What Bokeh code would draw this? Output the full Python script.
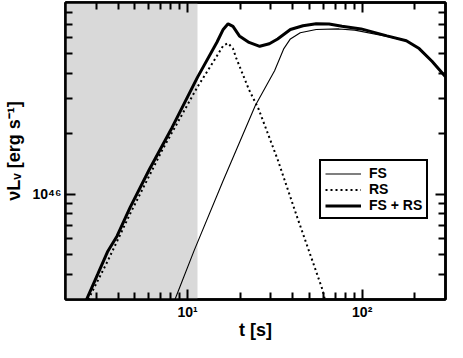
from bokeh.plotting import figure
from bokeh.models import FixedTicker, LogAxis, Legend, BoxAnnotation
from bokeh.embed import file_html
from bokeh.resources import INLINE

# ---- data ----
t_sum = [2.64, 3.06, 3.48, 3.95, 4.69, 6.04, 8.13, 11.41, 14.73, 16.0, 17.06, 18.2, 19.8, 22.5,
         25.9, 29.4, 32.8, 38.8, 45.8, 54.5, 64.6, 76.6, 98.6, 138.7, 179, 212, 251, 300]
L_sum = [3.0e45, 4.01e45, 5.18e45, 6.21e45, 8.61e45, 1.33e46, 2.14e46, 3.83e46, 5.71e46, 6.61e46,
         7.05e46, 6.85e46, 6.14e46, 5.70e46, 5.45e46, 5.61e46, 5.93e46, 6.61e46, 6.90e46, 7.05e46,
         7.03e46, 6.85e46, 6.65e46, 6.14e46, 5.81e46, 5.31e46, 4.59e46, 3.85e46]

t_fs = [8.47, 10.9, 15.96, 24.4, 31.5, 35.6, 38.8, 44.2, 54.5, 73.5, 90.7, 138.7, 179, 212, 251, 300]
L_fs = [3.0e45, 5.25e45, 1.165e46, 2.76e46, 4.12e46, 5.31e46, 5.93e46, 6.37e46, 6.61e46, 6.65e46,
        6.56e46, 6.10e46, 5.79e46, 5.30e46, 4.58e46, 3.85e46]

t_rs = [2.70, 3.48, 4.69, 7.16, 11.41, 14.1, 16.0, 17.06, 18.2, 19.0, 22.5, 25.5, 32.8, 42.4, 59.3, 61.1]
L_rs = [3.0e45, 4.64e45, 8.01e45, 1.66e46, 3.43e46, 4.59e46, 5.49e46, 5.65e46, 5.31e46, 4.76e46,
        3.31e46, 2.66e46, 1.49e46, 7.72e45, 3.35e45, 3.0e45]

shade_end = 11.4

x_range = (2, 300)
y_range = (3e45, 9e46)

x_major = [10, 100]
x_major_labels = ["10\u00b9", "10\u00b2"]
x_minor = [3, 4, 5, 6, 7, 8, 9, 20, 30, 40, 50, 60, 70, 80, 90, 200]
y_major = [1e46]
y_major_labels = ["10\u2074\u2076"]
y_minor = [4e45, 5e45, 6e45, 7e45, 8e45, 9e45, 2e46, 3e46, 4e46, 5e46, 6e46, 7e46, 8e46]

x_title = "t [s]"
y_title = "\u03bdL\u1d65 [erg s\u207b\u00b9]"

FONT = "Liberation Sans"

p = figure(width=447, height=342, x_axis_type="log", y_axis_type="log",
           x_range=x_range, y_range=y_range, output_backend="svg", toolbar_location=None,
           min_border_left=59, min_border_right=2, min_border_top=2, min_border_bottom=37,
           x_axis_label=x_title, y_axis_label=y_title)
p.grid.visible = False
p.background_fill_color = "white"
p.border_fill_color = "white"
p.outline_line_color = "black"
p.outline_line_width = 2.5

bottom_ax = p.below[0]
left_ax = p.left[0]

p.add_layout(BoxAnnotation(right=shade_end, fill_color="#d9d9d9", fill_alpha=1.0,
                           line_alpha=0, level="underlay"))

bottom_ax.ticker = FixedTicker(ticks=x_major, minor_ticks=x_minor)
left_ax.ticker = FixedTicker(ticks=y_major, minor_ticks=y_minor)
bottom_ax.major_label_overrides = dict(zip(x_major, x_major_labels))
left_ax.major_label_overrides = dict(zip(y_major, y_major_labels))

top = LogAxis(ticker=FixedTicker(ticks=x_major, minor_ticks=x_minor))
right = LogAxis(ticker=FixedTicker(ticks=y_major, minor_ticks=y_minor))
for ax in (top, right):
    ax.major_label_text_font_size = "1px"
    ax.major_label_text_color = None
    ax.major_label_standoff = 0
p.add_layout(top, "above")
p.add_layout(right, "right")

for ax in (bottom_ax, left_ax, top, right):
    ax.axis_line_width = 2.5
    ax.axis_line_color = "black"
    ax.major_tick_in = 10
    ax.major_tick_out = 0
    ax.minor_tick_in = 7
    ax.minor_tick_out = 0
    ax.major_tick_line_color = "black"
    ax.minor_tick_line_color = "black"
    ax.major_tick_line_width = 2
    ax.minor_tick_line_width = 2

for ax in (bottom_ax, left_ax):
    ax.major_label_text_font = FONT
    ax.major_label_text_font_style = "bold"
    ax.major_label_text_font_size = "14px"
    ax.major_label_text_color = "black"
    ax.major_label_standoff = 4
    ax.axis_label_text_font = FONT
    ax.axis_label_text_font_style = "bold"
    ax.axis_label_text_font_size = "18px"
    ax.axis_label_text_color = "black"
bottom_ax.axis_label_standoff = -3
left_ax.axis_label_standoff = 6

r_fs = p.line(t_fs, L_fs, line_color="black", line_width=1.1)
r_rs = p.line(t_rs, L_rs, line_color="black", line_width=2, line_dash="2 3")
r_sum = p.line(t_sum, L_sum, line_color="black", line_width=3)

legend = Legend(items=[("FS", [r_fs]), ("RS", [r_rs]), ("FS + RS", [r_sum])],
                location=(254, 80), margin=0, padding=4, spacing=0,
                glyph_width=36, glyph_height=15, label_height=15, label_standoff=8,
                border_line_color="black", border_line_alpha=1.0, border_line_width=2.5,
                background_fill_color="white", background_fill_alpha=1.0,
                label_text_font=FONT, label_text_font_style="bold",
                label_text_font_size="14px", label_text_color="black")
p.add_layout(legend)

open("out.html", "w").write(file_html(p, INLINE))
